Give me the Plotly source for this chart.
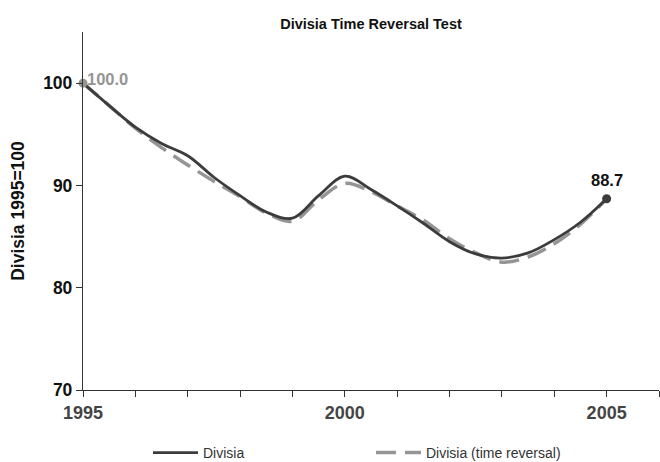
import plotly.graph_objects as go

years = [1995, 1995.5, 1996, 1996.5, 1997, 1997.5, 1998, 1998.5, 1999, 1999.5,
         2000, 2000.5, 2001, 2001.5, 2002, 2002.5, 2003, 2003.5, 2004, 2004.5, 2005]
divisia = [100.0, 97.8, 95.7, 94.1, 92.9, 90.8, 89.0, 87.4, 86.8, 89.0,
           90.9, 89.6, 88.0, 86.3, 84.5, 83.3, 82.9, 83.4, 84.7, 86.4, 88.7]
divisia_rev = [100.0, 97.8, 95.6, 93.7, 92.0, 90.4, 88.9, 87.3, 86.5, 88.6,
               90.2, 89.4, 88.0, 86.6, 84.8, 83.4, 82.5, 83.0, 84.3, 86.2, 88.7]

x_tickvals = list(range(1995, 2007))
x_ticktext = ["1995", "", "", "", "", "2000", "", "", "", "", "2005", ""]
y_tickvals = [70, 80, 90, 100]

FONT = "Liberation Sans, Arial, sans-serif"
DARK = "#3c3c3c"
GREY = "#959595"

fig = go.Figure()
fig.add_trace(go.Scatter(
    x=years, y=divisia_rev, mode="lines", name="Divisia (time reversal)",
    line=dict(color=GREY, width=3.5, dash="20px,9px", shape="spline", smoothing=1.0),
))
fig.add_trace(go.Scatter(
    x=years, y=divisia, mode="lines", name="Divisia",
    line=dict(color=DARK, width=2.8, shape="spline", smoothing=1.0),
))
fig.add_trace(go.Scatter(
    x=[years[0]], y=[divisia_rev[0]], mode="markers", showlegend=False,
    marker=dict(color=GREY, size=9), cliponaxis=False,
))
fig.add_trace(go.Scatter(
    x=[years[-1]], y=[divisia[-1]], mode="markers", showlegend=False,
    marker=dict(color=DARK, size=9), cliponaxis=False,
))

fig.add_annotation(x=years[0], y=divisia_rev[0], text=f"{divisia_rev[0]:.1f}",
                   showarrow=False, xanchor="left", yanchor="bottom",
                   xshift=2, yshift=-7,
                   font=dict(family=FONT, size=16.5, color=GREY, weight="bold"))
fig.add_annotation(x=years[-1], y=divisia[-1], text=f"{divisia[-1]:.1f}",
                   showarrow=False, xanchor="center", yanchor="bottom",
                   yshift=8,
                   font=dict(family=FONT, size=16.5, color="#111111", weight="bold"))

fig.update_layout(
    width=660, height=462,
    margin=dict(l=83, r=1, t=32, b=72),
    paper_bgcolor="white", plot_bgcolor="white",
    title=dict(text="<b>Divisia Time Reversal Test</b>", x=0.5, xref="paper",
               y=1 - 24/462, yanchor="middle",
               font=dict(family=FONT, size=14.5, color="#111111")),
    font=dict(family=FONT),
    legend=dict(orientation="h", xref="container", yref="container",
                x=148/660, xanchor="left", y=9/462, yanchor="middle",
                entrywidth=163, entrywidthmode="pixels",
                itemwidth=45,
                traceorder="reversed",
                font=dict(family=FONT, size=14, color="#333333")),
    showlegend=True,
)
fig.update_xaxes(range=[1995, 2006], tickvals=x_tickvals, ticktext=x_ticktext,
                 showgrid=False, zeroline=False, showline=True, linecolor="#333333",
                 linewidth=1.3, ticks="outside", ticklen=6, tickcolor="#333333",
                 tickwidth=1.3,
                 tickfont=dict(family=FONT, size=18, color="#444444", weight="bold"))
fig.update_yaxes(range=[70, 105], tickvals=y_tickvals,
                 showgrid=False, zeroline=False, showline=True, linecolor="#333333",
                 linewidth=1.3, ticks="outside", ticklen=6, tickcolor="#333333",
                 tickwidth=1.3,
                 title=dict(text="Divisia 1995=100", standoff=14,
                            font=dict(family=FONT, size=17.5, color="#111111", weight="bold")),
                 tickfont=dict(family=FONT, size=17.5, color="#111111", weight="bold"))

fig.write_html("out.html", config={"displayModeBar": False},
               post_script="document.body.style.margin='0';")
